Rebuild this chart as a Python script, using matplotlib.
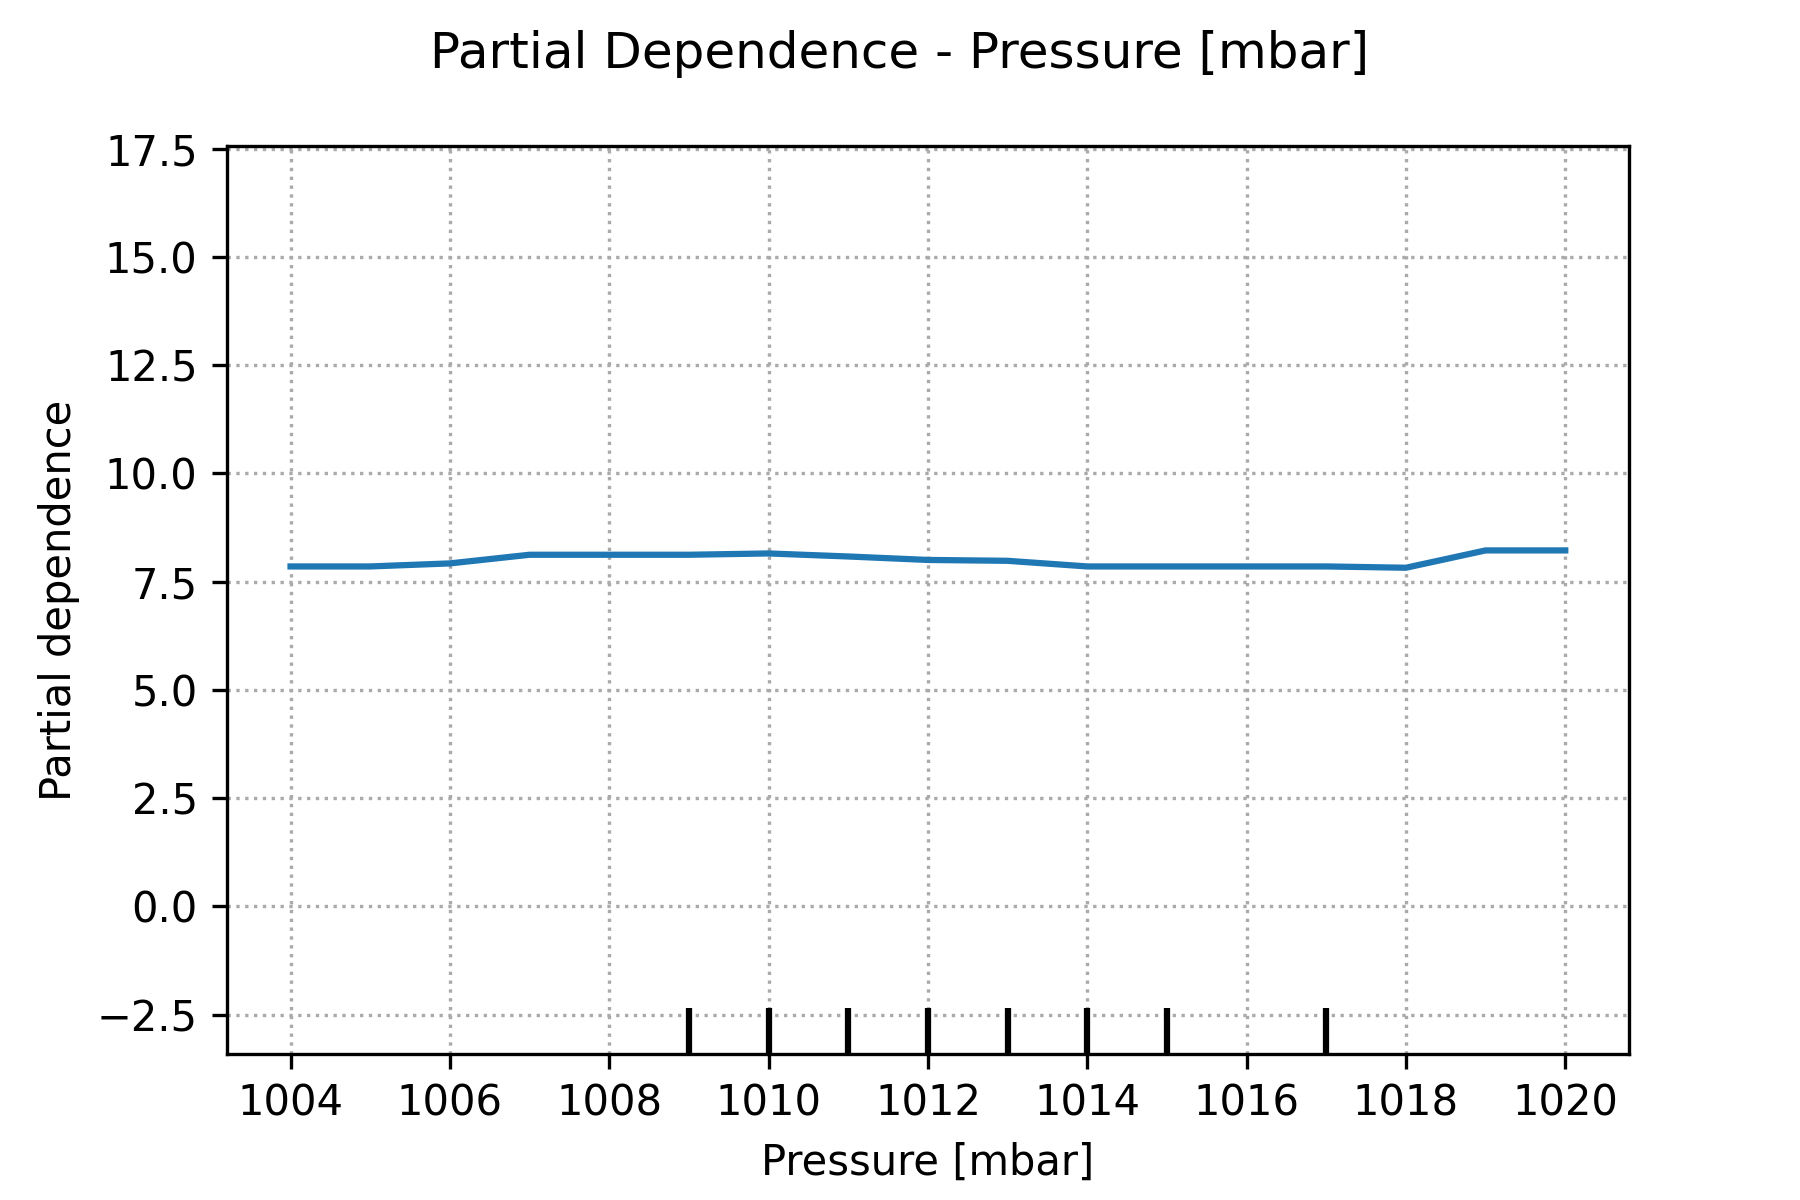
import numpy as np
import matplotlib.pyplot as plt

pressure = [1004, 1005, 1006, 1007, 1008, 1009, 1010, 1011, 1012, 1013,
            1014, 1015, 1016, 1017, 1018, 1019, 1020]
pd_vals = [7.85, 7.85, 7.92, 8.12, 8.12, 8.12, 8.15, 8.08, 8.00, 7.98,
           7.85, 7.85, 7.85, 7.85, 7.82, 8.22, 8.22]
deciles = [1009, 1010, 1011, 1012, 1013, 1014, 1015, 1017]

fig = plt.figure(figsize=(6, 4), dpi=300)
ax = fig.add_axes([0.126, 0.122, 0.779, 0.756])
ax.plot(pressure, pd_vals, color='tab:blue', linewidth=1.5)
ax.vlines(deciles, 0, 0.05, transform=ax.get_xaxis_transform(), colors='k', linewidth=1.5)
ax.set_ylim(-3.4, 17.55)
ax.set_yticks(np.arange(-2.5, 17.6, 2.5))
ax.set_xticks(range(1004, 1021, 2))
ax.grid(True, linestyle=':', color='#aaaaaa', linewidth=0.8)
ax.set_xlabel('Pressure [mbar]')
ax.set_ylabel('Partial dependence')
fig.suptitle('Partial Dependence - Pressure [mbar]', y=0.975, fontsize=12)
fig.savefig('out.png', dpi=300)
